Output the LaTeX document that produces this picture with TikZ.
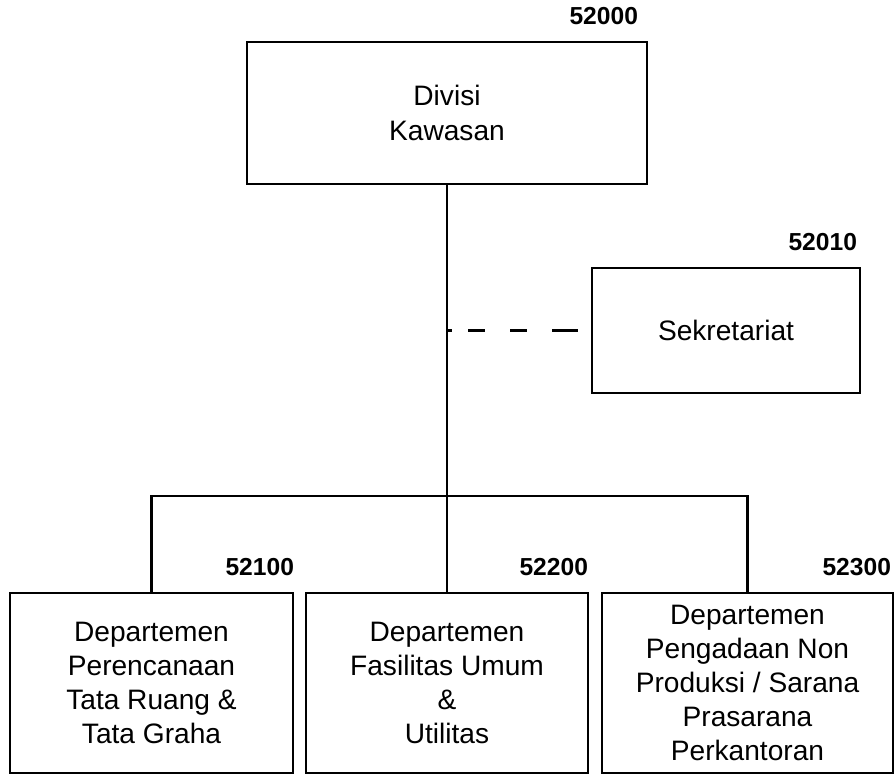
\documentclass[tikz,border=0pt]{standalone}
\usepackage{fontspec}
\setmainfont{Liberation Sans}
\usetikzlibrary{positioning}

\begin{document}
\begin{tikzpicture}[
  unit/.style={draw, line width=1.5pt, align=center, inner sep=0pt, font=\fontsize{16}{19.4}\selectfont},
  code/.style={anchor=base east, inner sep=0pt, font=\fontsize{14}{16}\selectfont\bfseries},
  link/.style={line width=1.5pt}
]
\useasboundingbox (0,0) rectangle (17.9,15.5);

%Divisi
\node[unit, minimum width=8cm, minimum height=2.84cm] (divisi) at (8.94,13.24) {Divisi\\Kawasan};
\node[code] (c52000) at ([shift={(-0.2,0.32)}]divisi.north east) {52000};

%Sekretariat
\node[unit, minimum width=5.36cm, minimum height=2.5cm] (sek) at (14.52,8.89) {Sekretariat};
\node[code] (c52010) at ([shift={(-0.08,0.32)}]sek.north east) {52010};

%% Departemen
\node[unit, minimum width=5.66cm, minimum height=3.6cm] (dep1) at (3.03,1.84) {Departemen\\Perencanaan\\Tata Ruang \&\\Tata Graha};
\node[unit, minimum width=5.64cm, minimum height=3.6cm] (dep2) at (8.94,1.84) {Departemen\\Fasilitas Umum\\\&\\Utilitas};
\node[unit, minimum width=5.82cm, minimum height=3.6cm] (dep3) at (14.95,1.84) {Departemen\\Pengadaan Non\\Produksi / Sarana\\Prasarana\\Perkantoran};
\node[code] (c52100) at ([yshift=0.32cm]dep1.north east) {52100};
\node[code] (c52200) at ([shift={(-0.02,0.32)}]dep2.north east) {52200};
\node[code] (c52300) at ([shift={(-0.06,0.32)}]dep3.north east) {52300};

% lines
\coordinate (bus) at (8.94,5.58);
\coordinate (tap) at (divisi.south |- sek.west);
\draw[link] (divisi.south) -- (dep2.north);
\draw[link] (dep1.north) |- (bus) -| (dep3.north);
\draw[link, dash pattern=on 0.1cm off 0.32cm on 0.34cm off 0.5cm on 0.34cm off 0.5cm on 0.52cm off 0.3cm] (tap) -- (sek.west);

\end{tikzpicture}
\end{document}
